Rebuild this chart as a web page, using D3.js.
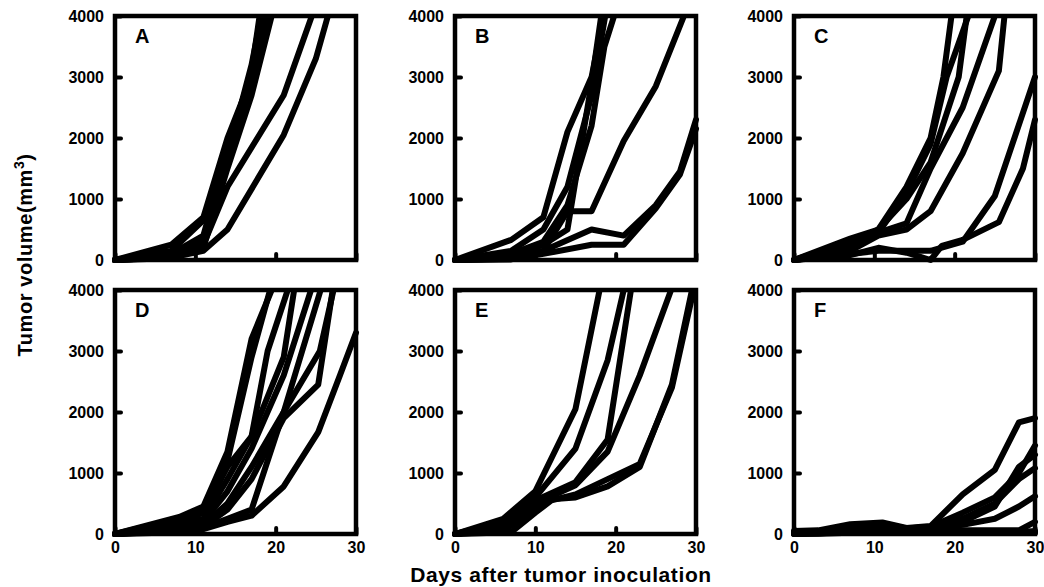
<!DOCTYPE html>
<html>
<head>
<meta charset="utf-8">
<script src="https://cdn.jsdelivr.net/npm/d3@7"></script>
<style>
  body { margin: 0; background: #fff; }
  text { font-family: "Liberation Sans", Arial, sans-serif; font-weight: bold; fill: #000; }
</style>
</head>
<body>
<svg id="chart" width="1044" height="587"></svg>
<script>
// ---- data: each curve is one mouse, [day, tumor volume mm3] ----
var panelA = [
  [[0,0],[7,150],[11,650],[14,1900],[17,2900],[18.5,4000]],
  [[0,0],[7,250],[11,700],[14,2000],[17,3000],[18.3,4000]],
  [[0,0],[7,100],[11,400],[14,1800],[17,3100],[18,4000]],
  [[0,0],[7,50],[11,300],[14,1600],[17,2900],[19,4000]],
  [[0,0],[7,30],[11,200],[14,1500],[17,2700],[19.5,4000]],
  [[0,0],[7,50],[11,350],[14,1700],[17,3200],[18.2,4000]],
  [[0,0],[7,80],[11,250],[14,1200],[21,2700],[24.5,4000]],
  [[0,0],[7,40],[11,150],[14,500],[21,2050],[25,3300],[26.5,4000]]
];
var panelB = [
  [[0,0],[7,330],[11,700],[14,2100],[17,3000],[18.5,4000]],
  [[0,0],[7,150],[11,500],[14,1200],[17,2700],[18.7,4000]],
  [[0,0],[7,100],[11,300],[14,900],[17,2200],[18.6,3500],[19.8,4000]],
  [[0,0],[7,50],[11,250],[14,500],[17,2900],[18.2,4000]],
  [[0,0],[7,30],[11,150],[14,800],[17,800],[21,1950],[25,2850],[28.5,4000]],
  [[0,0],[7,20],[11,150],[17,500],[21,400],[25,900],[28,1450],[30,2300]],
  [[0,0],[7,10],[11,100],[17,250],[21,250],[25,850],[28,1400],[30,2150]]
];
var panelC = [
  [[0,0],[7,350],[10.5,500],[14,1200],[17,2000],[18.6,3000],[19.6,4000]],
  [[0,0],[7,300],[10.5,450],[14,1100],[17,1900],[19,3000],[21.7,4000]],
  [[0,0],[7,250],[10.5,500],[14,1000],[17,1600],[20.5,3000],[21.5,4000]],
  [[0,0],[7,200],[10.5,450],[14,600],[17,1500],[21,2500],[25,4000]],
  [[0,0],[7,150],[10.5,400],[14,500],[17,800],[21,1750],[25.5,3100],[26.2,4000]],
  [[0,0],[7,100],[10.5,150],[14,150],[17,150],[21,300],[25,1050],[30,3000]],
  [[0,0],[7,80],[10.5,200],[14,120],[17,0],[18.4,230],[21,330],[25.5,620],[28.5,1500],[30,2300]]
];
var panelD = [
  [[0,0],[8,280],[11,450],[14,1350],[17,3200],[19.5,4000]],
  [[0,0],[8,250],[11,400],[14,1200],[17,2900],[19.3,4000]],
  [[0,0],[8,200],[11,350],[14,1100],[17,1600],[19,3000],[21.5,4000]],
  [[0,0],[8,150],[11,250],[14,900],[17,1600],[21,2900],[22.3,4000]],
  [[0,0],[8,100],[11,200],[14,700],[17,1400],[21,2600],[24.4,4000]],
  [[0,0],[8,80],[11,150],[14,500],[17,1100],[21,2000],[25.6,4000]],
  [[0,0],[8,60],[11,120],[14,400],[17,900],[21,1900],[25.3,2450],[27.1,4000]],
  [[0,0],[8,50],[11,100],[14,250],[17,400],[21,2000],[25.5,3000],[27.2,4000]],
  [[0,0],[8,30],[11,80],[14,200],[17,300],[21,780],[25.3,1670],[28,2600],[30,3300]]
];
var panelE = [
  [[0,0],[6,250],[10,700],[15,2050],[18,4000]],
  [[0,0],[6,200],[10,600],[15,1400],[19,2850],[21,4000]],
  [[0,0],[6,150],[10,550],[15,850],[19,1550],[21.9,4000]],
  [[0,0],[6,100],[10,500],[15,800],[19,1350],[23,2600],[26.9,4000]],
  [[0,0],[6,50],[10,400],[12,570],[15,600],[19,780],[23,1100],[27,2450],[29.5,4000]],
  [[0,0],[7,30],[10,350],[12,550],[15,650],[19,900],[23,1150],[27,2400],[29.7,4000]]
];
var panelF = [
  [[0,50],[3,60],[7,160],[11,190],[14,100],[17,130],[21,650],[25,1050],[28,1830],[30,1900]],
  [[0,30],[3,40],[7,130],[11,170],[14,90],[17,120],[21,350],[25,600],[28,1000],[30,1450]],
  [[0,20],[3,30],[7,90],[11,140],[14,70],[17,100],[21,200],[25,450],[28,1100],[30,1300]],
  [[0,20],[3,30],[7,100],[11,150],[14,80],[17,100],[21,250],[25,500],[28,900],[30,1080]],
  [[0,10],[3,20],[7,80],[11,120],[14,60],[17,80],[21,150],[25,250],[28,450],[30,620]],
  [[0,10],[3,20],[7,60],[11,100],[14,50],[17,60],[21,60],[25,60],[28,60],[30,200]],
  [[0,0],[3,10],[7,40],[11,80],[14,40],[17,40],[21,40],[25,40],[28,30],[30,50]],
  [[0,0],[3,5],[7,20],[11,50],[14,30],[17,20],[21,20],[25,20],[28,20],[30,20]]
];
var panelLetters = ["A", "B", "C", "D", "E", "F"];
var yTicks = [0, 1000, 2000, 3000, 4000];
var xTicks = [0, 10, 20, 30];

// ---- layout ----
var svg = d3.select("#chart");
var colLeft = [115, 455, 794];
var rowTop = [16, 290];
var pw = 241, ph = 244;

var panels = [panelA, panelB, panelC, panelD, panelE, panelF];

panels.forEach(function(curves, i) {
  var col = i % 3, row = Math.floor(i / 3);
  var g = svg.append("g")
    .attr("transform", "translate(" + colLeft[col] + "," + rowTop[row] + ")");

  var x = d3.scaleLinear().domain([0, 30]).range([0, pw]);
  var y = d3.scaleLinear().domain([0, 4000]).range([ph, 0]);

  // clip only above the 4000 line
  var clipId = "clip" + i;
  g.append("clipPath").attr("id", clipId)
    .append("rect")
    .attr("x", -10).attr("y", 0)
    .attr("width", pw + 20).attr("height", ph + 12);

  // axes with inward ticks
  var yAxis = d3.axisLeft(y).tickValues(yTicks).tickSize(-6).tickPadding(11)
    .tickFormat(d3.format("d"));
  var xAxis = d3.axisBottom(x).tickValues(xTicks).tickSize(-6).tickPadding(8)
    .tickFormat(row === 1 ? d3.format("d") : function() { return ""; });

  var ya = g.append("g").call(yAxis);
  var xa = g.append("g").attr("transform", "translate(0," + ph + ")").call(xAxis);
  [ya, xa].forEach(function(a) {
    a.select(".domain").remove();
    a.selectAll(".tick line").attr("stroke", "#000").attr("stroke-width", 4).attr("stroke-linecap", "round");
    a.selectAll(".tick text").style("font-size", "16px").style("font-family", "'Liberation Sans', Arial, sans-serif")
      .style("font-weight", "bold").attr("fill", "#000");
  });

  // frame
  g.append("rect")
    .attr("width", pw).attr("height", ph)
    .attr("fill", "none").attr("stroke", "#000").attr("stroke-width", 4.5);

  var line = d3.line()
    .x(function(d) { return x(d[0]); })
    .y(function(d) { return y(d[1]); });

  g.append("g").attr("clip-path", "url(#" + clipId + ")")
    .selectAll("path")
    .data(curves)
    .enter()
    .append("path")
    .attr("d", line)
    .attr("fill", "none")
    .attr("stroke", "#000")
    .attr("stroke-width", 6)
    .attr("stroke-linejoin", "round")
    .attr("stroke-linecap", "round");

  g.append("text")
    .attr("x", 20).attr("y", 27)
    .style("font-size", "20px")
    .text(panelLetters[i]);
});

// axis titles
svg.append("text")
  .attr("x", 561).attr("y", 582)
  .attr("text-anchor", "middle")
  .style("font-size", "21px")
  .style("letter-spacing", "0.6px")
  .text("Days after tumor inoculation");

var yl = svg.append("text")
  .attr("transform", "translate(32,255) rotate(-90)")
  .attr("text-anchor", "middle")
  .style("font-size", "20px")
  .style("letter-spacing", "0.6px");
yl.append("tspan").text("Tumor volume(mm");
yl.append("tspan").attr("baseline-shift", "super").style("font-size", "14px").text("3");
yl.append("tspan").text(")");
</script>
</body>
</html>
